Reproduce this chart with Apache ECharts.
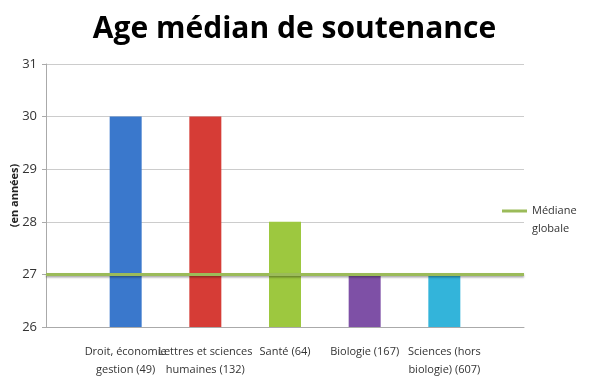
<!DOCTYPE html>
<html><head><meta charset="utf-8">
<script src="https://cdn.jsdelivr.net/npm/echarts@6/dist/echarts.min.js"></script>
<style>html,body{margin:0;padding:0;background:#fff}#c{width:589px;height:389px}</style>
</head><body><div id="c"></div>
<script>
const categories = ['', 'Droit, économie\ngestion (49)', 'Lettres et sciences\nhumaines (132)', 'Santé (64)', 'Biologie (167)', 'Sciences (hors\nbiologie) (607)', ''];
const ages = [null, 30, 30, 28, 27, 27, null];
const barColors = ['#fff', '#3a78cc', '#d63c36', '#9dc83f', '#7e50a6', '#33b4da', '#fff'];
const medianName = 'Médiane\nglobale';
const medianValues = [27, 27, 27, 27, 27, 27, 27];
const yTicks = {min: 26, max: 31, interval: 1};

const chart = echarts.init(document.getElementById('c'), null, {renderer: 'canvas'});
chart.setOption({
  animation: false,
  title: {text: 'Age médian de soutenance', left: 'center', top: 9,
    textStyle: {fontFamily: 'Open Sans', fontWeight: 'bold', fontSize: 30, color: '#000'}},
  legend: {data: [{name: medianName}], left: 497, top: 179, orient: 'vertical', itemWidth: 25, itemHeight: 3,
    icon: 'rect', formatter: n => '\n' + n,
    textStyle: {fontFamily: 'Open Sans', fontSize: 11, color: '#333', lineHeight: 18}},
  grid: {left: 46, right: 65, top: 64, bottom: 62, outerBoundsMode: 'none', containLabel: false},
  xAxis: {type: 'category', data: categories, boundaryGap: false,
    axisLine: {lineStyle: {color: '#aaa'}}, axisTick: {show: false},
    axisLabel: {interval: 0, color: '#333', fontFamily: 'Open Sans', fontSize: 11, lineHeight: 18, margin: 16}},
  yAxis: {type: 'value', min: yTicks.min, max: yTicks.max, interval: yTicks.interval,
    name: '(en années)', nameLocation: 'middle', nameGap: 26, nameMoveOverlap: false,
    nameTextStyle: {fontFamily: 'Open Sans', fontWeight: 'bold', fontSize: 11, color: '#222'},
    axisLine: {show: true, lineStyle: {color: '#aaa'}}, axisTick: {show: true, length: 4, lineStyle: {color: '#aaa'}},
    splitLine: {lineStyle: {color: '#ccc'}},
    axisLabel: {color: '#333', fontFamily: 'Open Sans', fontSize: 13, margin: 9}},
  series: [
    {type: 'bar', name: 'Age', data: ages.map((v, i) => ({value: v, itemStyle: {color: barColors[i]}})),
     barWidth: 32, clip: true, z: 2},
    {type: 'line', name: medianName, data: medianValues, symbol: 'none', z: 3,
     lineStyle: {color: '#9bbb59', width: 3, shadowColor: 'rgba(0,0,0,0.35)', shadowBlur: 2, shadowOffsetY: 1.5},
     itemStyle: {color: '#9bbb59'}}
  ]
});
</script></body></html>
